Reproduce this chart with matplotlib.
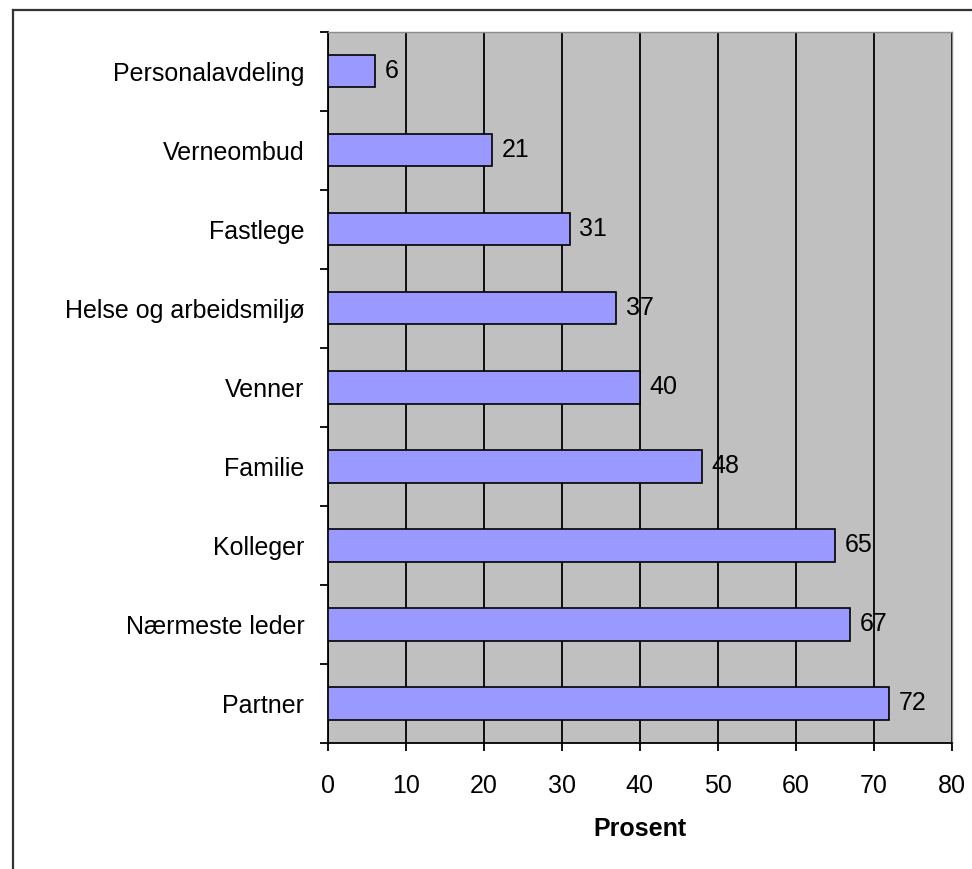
import matplotlib

matplotlib.use("Agg")

import matplotlib.pyplot as plt
import numpy as np
from matplotlib.lines import Line2D
from matplotlib.ticker import FixedLocator, NullFormatter

categories = [
    "Personalavdeling",
    "Verneombud",
    "Fastlege",
    "Helse og arbeidsmiljø",
    "Venner",
    "Familie",
    "Kolleger",
    "Nærmeste leder",
    "Partner",
]
percent = [6, 21, 31, 37, 40, 48, 65, 67, 72]
x_ticks = [0, 10, 20, 30, 40, 50, 60, 70, 80]

plt.rcParams["font.family"] = ["Liberation Sans", "DejaVu Sans"]
FS = 18

fig = plt.figure(figsize=(9.72, 8.69), dpi=100)
ax = fig.add_axes([0.3374, 0.145, 0.6416, 0.8186])

pos = np.arange(len(categories))
ax.set_facecolor("#c0c0c0")
ax.set_axisbelow(True)
ax.grid(axis="x", color="black", linewidth=1.3)

ax.barh(pos, percent, height=0.41, color="#9999ff", edgecolor="black", linewidth=1.2, zorder=3)
for y, v in zip(pos, percent):
    ax.annotate(str(v), (v, y), xytext=(7, 0), textcoords="offset points",
                va="center", ha="left", fontsize=FS, zorder=4)

ax.set_xlim(x_ticks[0], x_ticks[-1])
ax.set_ylim(len(categories) - 0.5, -0.5)
ax.set_xticks(x_ticks)
ax.tick_params(axis="x", direction="out", length=6, width=1.3, labelsize=FS, pad=16)

# boundary ticks as majors, category names on unlabeled minors
ax.yaxis.set_major_locator(FixedLocator(np.arange(-0.5, len(categories), 1.0)))
ax.yaxis.set_major_formatter(NullFormatter())
ax.yaxis.set_minor_locator(FixedLocator(pos))
ax.set_yticklabels(categories, minor=True)
ax.tick_params(axis="y", which="major", direction="out", length=6, width=1.3)
ax.tick_params(axis="y", which="minor", length=0, labelsize=FS, pad=17)

for side in ("left", "bottom"):
    ax.spines[side].set_color("black")
    ax.spines[side].set_linewidth(1.3)
for side in ("top", "right"):
    ax.spines[side].set_color("#8c8c8c")
    ax.spines[side].set_linewidth(1.0)

ax.set_xlabel("Prosent", fontsize=FS, fontweight="bold", labelpad=14)

# outer frame around the chart area
fig.add_artist(Line2D([13 / 972, 13 / 972], [0, 1 - 10 / 869], transform=fig.transFigure,
                      color="#333333", linewidth=1.6))
fig.add_artist(Line2D([13 / 972, 1], [1 - 10 / 869, 1 - 10 / 869], transform=fig.transFigure,
                      color="#333333", linewidth=1.6))

fig.savefig("out.png", dpi=100)
plt.close(fig)
